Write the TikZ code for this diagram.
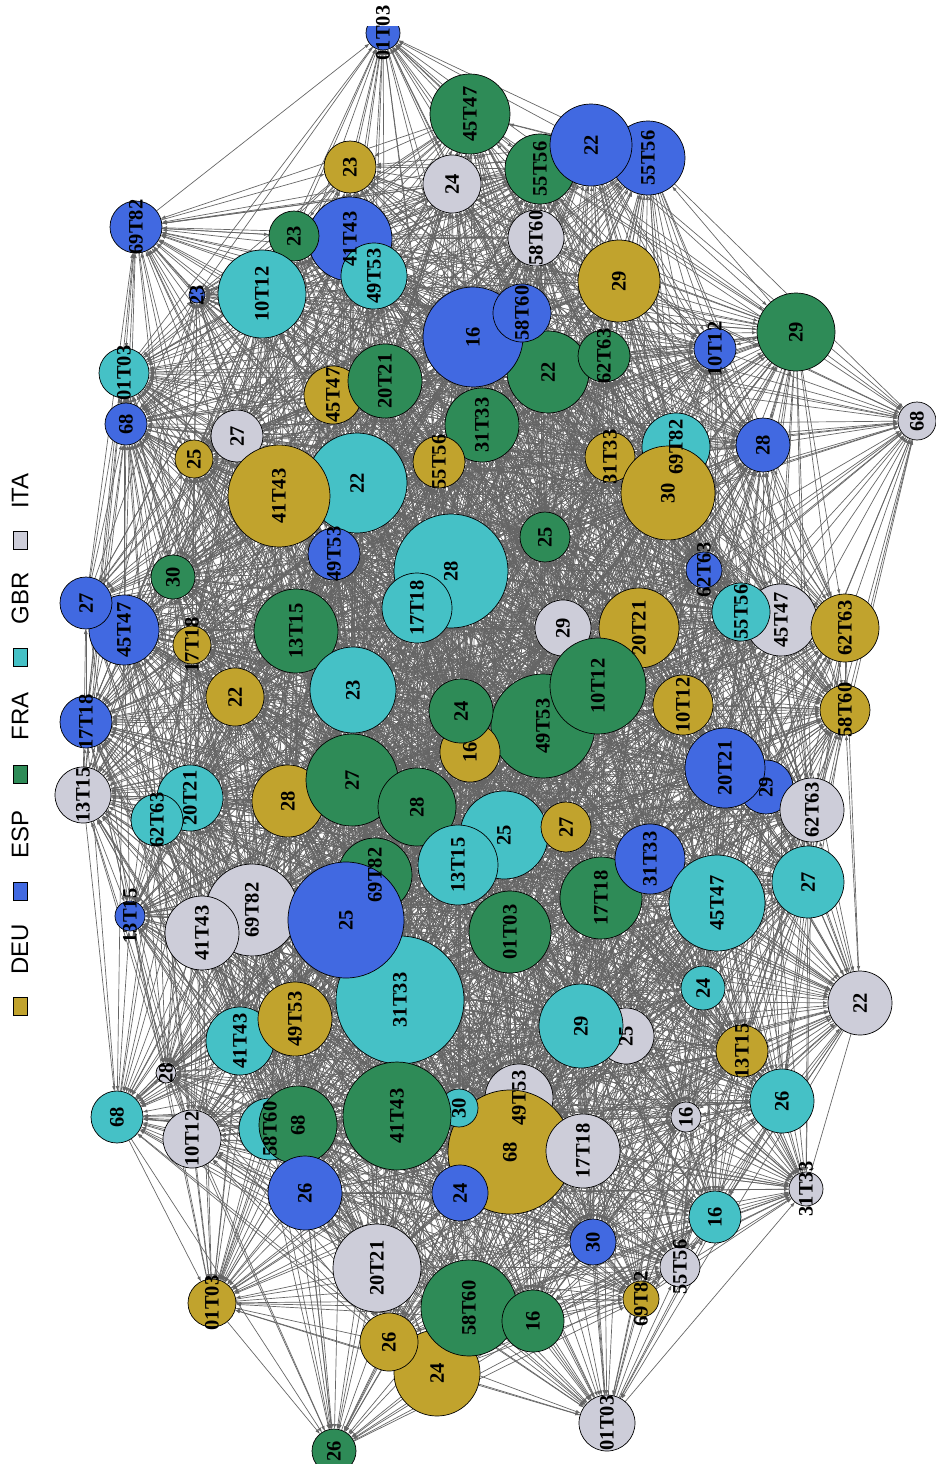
\documentclass[tikz,border=0pt]{standalone}
\usepackage{fontspec}
\setmainfont{Liberation Serif}
\setsansfont{Liberation Sans}
\usetikzlibrary{arrows.meta,backgrounds}
\definecolor{deu}{HTML}{C1A32D}
\definecolor{esp}{HTML}{4169E1}
\definecolor{fra}{HTML}{2E8B57}
\definecolor{gbr}{HTML}{45C1C6}
\definecolor{ita}{HTML}{CDCDD9}
\definecolor{edgegray}{HTML}{656565}
\def\nodelist{1/383/33/17/esp/01T03,
2/470/114/40/fra/45T47,
4/648/158/37/esp/55T56,
5/540/169/35/fra/55T56,
3/591/145/41/esp/22,
6/452/184/29/ita/24,
7/350/167/26/deu/23,
8/136/227/26/esp/69T82,
10/350/239/42/esp/41T43,
9/294/236/25/fra/23,
11/374/276/33/gbr/49T53,
12/262/294/44/gbr/10T12,
13/197/295/8/esp/23,
14/536/238/28/ita/58T60,
15/619/281/41/deu/29,
16/796/332/39/fra/29,
19/548/372/41/fra/22,
17/473/337/50/esp/16,
18/522/313/29/esp/58T60,
20/604/356/26/fra/62T63,
21/715/349/21/esp/10T12,
22/917/421/19/ita/68,
23/124/373/25/gbr/01T03,
24/126/424/21/esp/68,
25/333/395/29/deu/45T47,
26/385/381/37/fra/20T21,
27/482/425/37/fra/31T33,
28/237/436/26/ita/27,
29/194/459/19/deu/25,
31/357/483/50/gbr/22,
33/334/554/26/esp/49T53,
30/279/496/51/deu/41T43,
32/439/462/26/deu/55T56,
34/451/571/57/gbr/28,
35/417/608/35/gbr/17T18,
36/545/537/25/fra/25,
37/610/457/25/deu/31T33,
38/676/447/34/gbr/69T82,
39/668/493/47/deu/30,
40/763/445/27/esp/28,
41/704/570/18/esp/62T63,
43/781/620/36/ita/45T47,
42/741/612/29/gbr/55T56,
44/845/628/34/deu/62T63,
45/845/710/25/deu/58T60,
46/563/628/28/ita/29,
47/639/628/40/deu/20T21,
50/543/726/52/fra/49T53,
48/598/686/48/fra/10T12,
49/683/705/30/deu/10T12,
51/296/631/42/fra/13T15,
52/173/577/22/fra/30,
54/124/630/35/esp/45T47,
53/86/603/26/esp/27,
55/192/645/19/deu/17T18,
56/235/697/29/deu/22,
57/353/690/43/gbr/23,
60/470/752/30/deu/16,
58/461/711/32/fra/24,
59/86/722/26/esp/17T18,
61/83/795/28/ita/13T15,
62/190/798/33/gbr/20T21,
63/157/820/26/gbr/62T63,
64/288/801/36/deu/28,
65/352/780/46/fra/27,
66/417/807/39/fra/28,
68/504/835/44/gbr/25,
67/458/865/40/gbr/13T15,
69/566/827/25/deu/27,
70/375/875/37/fra/69T82,
72/252/910/46/ita/69T82,
73/202/933/37/ita/41T43,
75/400/1000/64/gbr/31T33,
71/346/920/58/esp/25,
74/130/916/15/esp/13T15,
77/240/1041/34/gbr/41T43,
76/295/1019/37/deu/49T53,
78/166/1073/10/ita/28,
79/510/932/41/fra/01T03,
80/601/898/41/fra/17T18,
81/650/859/35/esp/31T33,
82/717/903/48/gbr/45T47,
84/766/787/27/esp/29,
83/725/768/40/esp/20T21,
85/812/810/32/ita/62T63,
86/808/882/36/gbr/27,
87/703/988/22/gbr/24,
88/860/1003/32/ita/22,
90/626/1036/28/ita/25,
89/581/1026/42/gbr/29,
91/742/1051/26/deu/13T15,
92/782/1101/32/gbr/26,
93/686/1117/15/ita/16,
94/806/1189/17/ita/31T33,
95/715/1217/26/gbr/16,
96/680/1267/20/ita/55T56,
97/641/1299/18/deu/69T82,
98/593/1242/23/esp/30,
99/607/1423/28/ita/01T03,
104/519/1098/34/ita/49T53,
103/510/1152/62/deu/68,
102/583/1151/37/ita/17T18,
105/459/1108/19/gbr/30,
106/460/1193/28/esp/24,
107/397/1116/54/fra/41T43,
109/270/1129/31/gbr/58T60,
108/298/1125/39/fra/68,
112/305/1193/37/esp/26,
110/192/1139/29/ita/10T12,
111/117/1117/26/gbr/68,
113/377/1268/44/ita/20T21,
115/437/1373/43/deu/24,
101/469/1308/48/fra/58T60,
114/389/1342/29/deu/26,
100/533/1321/31/fra/16,
116/212/1303/24/deu/01T03,
117/334/1451/22/fra/26}
\begin{document}
\begin{tikzpicture}[x=1pt,y=-1pt,
  country/.style={circle,draw=black,line width=0.7pt,inner sep=0pt,outer sep=0pt},
  lbl/.style={font=\fontsize{20.5}{20.5}\selectfont\bfseries,rotate=90,inner sep=0pt,text=black},
  edge/.style={draw=edgegray,line width=0.68pt,-{Latex[length=5pt,width=3.5pt]}},
  legtext/.style={font=\fontsize{24}{24}\selectfont\sffamily,rotate=90,inner sep=0pt},
  legkey/.style={draw=black,line width=0.8pt,minimum width=14pt,minimum height=18pt,inner sep=0pt}]
\useasboundingbox (0,0) rectangle (936,1464);
\begin{scope}
\clip (0,27) rectangle (936,1500);
\foreach \na/\xa/\ya/\ra/\ca/\la in \nodelist {
  \node[country,fill=\ca,minimum size={2*\ra pt}] (n\na) at (\xa,\ya) {};
}
\end{scope}
\begin{pgfonlayer}{background}
\fill[white] (0,0) rectangle (936,1464);
\foreach \na/\xa/\ya/\ra/\ca/\la in \nodelist {
  \foreach \nb/\xb/\yb/\rb/\cb/\lb in \nodelist {
    \ifnum\nb>\na\relax
      \pgfmathsetmacro\dd{((\xa-\xb)/100)^2+((\ya-\yb)/100)^2}
      \pgfmathsetmacro\thr{((350+3.0*(\ra+\rb))/100)^2}
      \pgfmathtruncatemacro\skip{(\na==99)*(\nb==117)+(\na==117)*(\nb==99)}
      \ifnum\skip=0\relax
      \ifdim\dd pt<\thr pt\relax
        \ifdim\rb pt<\ra pt\relax
          \draw[edge] (n\na) -- (n\nb);
        \else
          \draw[edge] (n\nb) -- (n\na);
        \fi
      \fi
      \fi
    \fi
  }
}
\end{pgfonlayer}
\foreach \na/\xa/\ya/\ra/\ca/\la in \nodelist {
  \node[lbl] (l\na) at (n\na.center) {\la};
}
\node[legkey,fill=deu] (kdeu) at (20,1006) {};
\node[legtext] (tdeu) at (20,949) {DEU};
\node[legkey,fill=esp] (kesp) at (20,891) {};
\node[legtext] (tesp) at (20,834) {ESP};
\node[legkey,fill=fra] (kfra) at (20,774) {};
\node[legtext] (tfra) at (20,716) {FRA};
\node[legkey,fill=gbr] (kgbr) at (20,657) {};
\node[legtext] (tgbr) at (20,598) {GBR};
\node[legkey,fill=ita] (kita) at (20,540) {};
\node[legtext] (tita) at (20,491) {ITA};
\end{tikzpicture}
\end{document}
